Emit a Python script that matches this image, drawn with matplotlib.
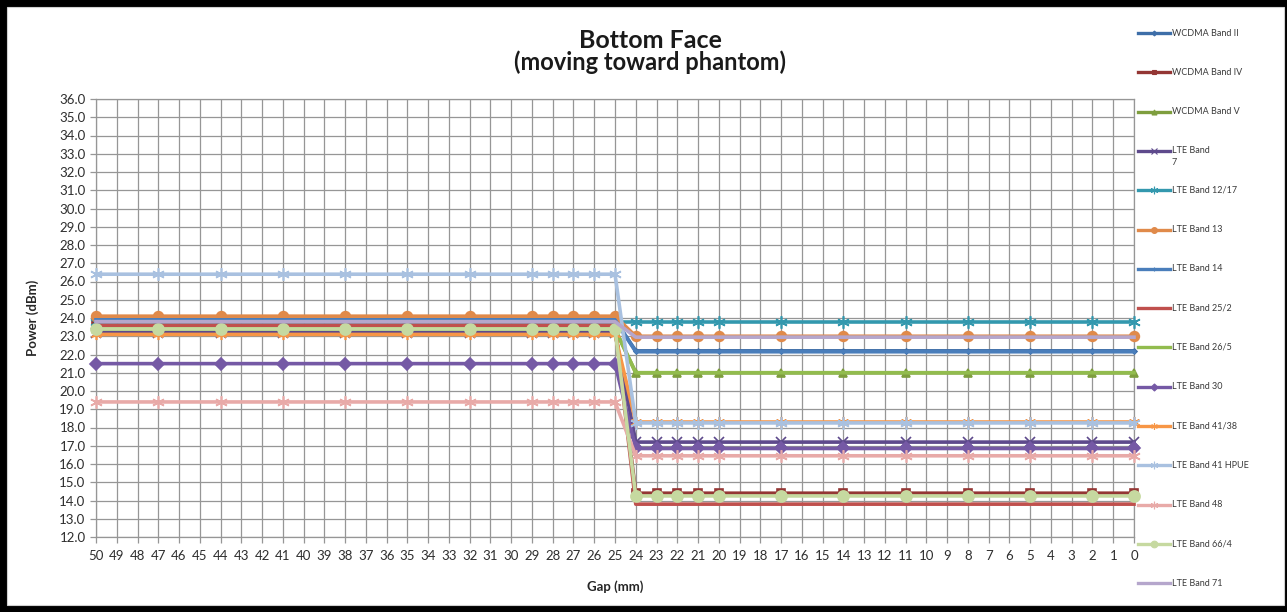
import matplotlib
matplotlib.use("Agg")
import matplotlib.pyplot as plt
from matplotlib.lines import Line2D
from matplotlib.patches import Rectangle

plt.rcParams['font.family'] = ['Lato', 'DejaVu Sans']

# gap positions (mm) where power was measured
gap = [50, 47, 44, 41, 38, 35, 32, 29, 28, 27, 26, 25,
       24, 23, 22, 21, 20, 17, 14, 11, 8, 5, 2, 0]

# measured power (dBm) per band, same order as gap
wcdma_2 = [23.9, 23.9, 23.9, 23.9, 23.9, 23.9, 23.9, 23.9, 23.9, 23.9, 23.9, 23.9,
           22.2, 22.2, 22.2, 22.2, 22.2, 22.2, 22.2, 22.2, 22.2, 22.2, 22.2, 22.2]
wcdma_4 = [23.6, 23.6, 23.6, 23.6, 23.6, 23.6, 23.6, 23.6, 23.6, 23.6, 23.6, 23.6,
           14.4, 14.4, 14.4, 14.4, 14.4, 14.4, 14.4, 14.4, 14.4, 14.4, 14.4, 14.4]
wcdma_5 = [23.4, 23.4, 23.4, 23.4, 23.4, 23.4, 23.4, 23.4, 23.4, 23.4, 23.4, 23.4,
           21.0, 21.0, 21.0, 21.0, 21.0, 21.0, 21.0, 21.0, 21.0, 21.0, 21.0, 21.0]
lte_7 = [23.2, 23.2, 23.2, 23.2, 23.2, 23.2, 23.2, 23.2, 23.2, 23.2, 23.2, 23.2,
         17.2, 17.2, 17.2, 17.2, 17.2, 17.2, 17.2, 17.2, 17.2, 17.2, 17.2, 17.2]
lte_12_17 = [23.8, 23.8, 23.8, 23.8, 23.8, 23.8, 23.8, 23.8, 23.8, 23.8, 23.8, 23.8,
             23.8, 23.8, 23.8, 23.8, 23.8, 23.8, 23.8, 23.8, 23.8, 23.8, 23.8, 23.8]
lte_13 = [24.1, 24.1, 24.1, 24.1, 24.1, 24.1, 24.1, 24.1, 24.1, 24.1, 24.1, 24.1,
          23.0, 23.0, 23.0, 23.0, 23.0, 23.0, 23.0, 23.0, 23.0, 23.0, 23.0, 23.0]
lte_14 = [23.9, 23.9, 23.9, 23.9, 23.9, 23.9, 23.9, 23.9, 23.9, 23.9, 23.9, 23.9,
          22.15, 22.15, 22.15, 22.15, 22.15, 22.15, 22.15, 22.15, 22.15, 22.15, 22.15, 22.15]
lte_25_2 = [23.6, 23.6, 23.6, 23.6, 23.6, 23.6, 23.6, 23.6, 23.6, 23.6, 23.6, 23.6,
            13.8, 13.8, 13.8, 13.8, 13.8, 13.8, 13.8, 13.8, 13.8, 13.8, 13.8, 13.8]
lte_26_5 = [23.4, 23.4, 23.4, 23.4, 23.4, 23.4, 23.4, 23.4, 23.4, 23.4, 23.4, 23.4,
            21.0, 21.0, 21.0, 21.0, 21.0, 21.0, 21.0, 21.0, 21.0, 21.0, 21.0, 21.0]
lte_30 = [21.5, 21.5, 21.5, 21.5, 21.5, 21.5, 21.5, 21.5, 21.5, 21.5, 21.5, 21.5,
          16.85, 16.85, 16.85, 16.85, 16.85, 16.85, 16.85, 16.85, 16.85, 16.85, 16.85, 16.85]
lte_41_38 = [23.1, 23.1, 23.1, 23.1, 23.1, 23.1, 23.1, 23.1, 23.1, 23.1, 23.1, 23.1,
             18.3, 18.3, 18.3, 18.3, 18.3, 18.3, 18.3, 18.3, 18.3, 18.3, 18.3, 18.3]
lte_41_hpue = [26.4, 26.4, 26.4, 26.4, 26.4, 26.4, 26.4, 26.4, 26.4, 26.4, 26.4, 26.4,
               18.25, 18.25, 18.25, 18.25, 18.25, 18.25, 18.25, 18.25, 18.25, 18.25, 18.25, 18.25]
lte_48 = [19.4, 19.4, 19.4, 19.4, 19.4, 19.4, 19.4, 19.4, 19.4, 19.4, 19.4, 19.4,
          16.45, 16.45, 16.45, 16.45, 16.45, 16.45, 16.45, 16.45, 16.45, 16.45, 16.45, 16.45]
lte_66_4 = [23.4, 23.4, 23.4, 23.4, 23.4, 23.4, 23.4, 23.4, 23.4, 23.4, 23.4, 23.4,
            14.25, 14.25, 14.25, 14.25, 14.25, 14.25, 14.25, 14.25, 14.25, 14.25, 14.25, 14.25]
lte_71 = [23.8, 23.8, 23.8, 23.8, 23.8, 23.8, 23.8, 23.8, 23.8, 23.8, 23.8, 23.8,
          22.95, 22.95, 22.95, 22.95, 22.95, 22.95, 22.95, 22.95, 22.95, 22.95, 22.95, 22.95]

bands = ['WCDMA Band II', 'WCDMA Band IV', 'WCDMA Band V', 'LTE Band\n7',
         'LTE Band 12/17', 'LTE Band 13', 'LTE Band 14', 'LTE Band 25/2',
         'LTE Band 26/5', 'LTE Band 30', 'LTE Band 41/38', 'LTE Band 41 HPUE',
         'LTE Band 48', 'LTE Band 66/4', 'LTE Band 71']
series = [wcdma_2, wcdma_4, wcdma_5, lte_7, lte_12_17, lte_13, lte_14, lte_25_2,
          lte_26_5, lte_30, lte_41_38, lte_41_hpue, lte_48, lte_66_4, lte_71]

star = (6, 2, 0)
colors = ['#3E6EA8', '#943634', '#7E9E3E', '#5E4A8C', '#3398AE', '#E08A4A',
          '#4A7EBB', '#C0504D', '#92BC4E', '#7559A5', '#F79646', '#A9C1E0',
          '#E8AAA8', '#C6D9A0', '#B5A6CC']
markers = ['D', 's', '^', 'x', star, 'o', '+', None, None, 'D', star, star,
           star, 'o', None]
msizes = [2.5, 6, 6, 7, 9, 7, 3, 0, 0, 6, 8, 9, 9, 8, 0]

fig = plt.figure(figsize=(12.87, 6.12), dpi=100)
fig.patch.set_facecolor('black')
fig.patches.append(Rectangle((7 / 1287, 7 / 612), 1277 / 1287, 598 / 612,
                             transform=fig.transFigure, facecolor='white',
                             edgecolor='#d0d0d0', lw=0.8, zorder=-10))

ax = fig.add_axes([96 / 1287, 1 - 537 / 612, 1038 / 1287, 438 / 612])
ax.set_zorder(2)
ax.set_facecolor('white')

for vals, col, mk, ms in zip(series, colors, markers, msizes):
    ax.plot(gap, vals, color=col, lw=2.6, marker=mk, ms=ms, mew=1.2,
            mfc=col, mec=col, zorder=3, clip_on=False)

ax.set_xlim(50, 0)
ax.set_ylim(12, 36)
ax.set_xticks(range(51))
ax.set_xticklabels([str(v) for v in range(51)])
ax.set_yticks(range(12, 37))
ax.set_yticklabels(['%.1f' % v for v in range(12, 37)])
ax.grid(True, color='#969696', lw=0.9)
ax.set_axisbelow(True)
for s in ax.spines.values():
    s.set_color('#969696')
    s.set_linewidth(0.9)
ax.tick_params(axis='both', colors='#969696', length=4, width=0.9,
               labelcolor='#2e2e2e', labelsize=9.5)
ax.tick_params(axis='x', pad=5)

ax.set_ylabel('Power (dBm)', fontsize=9.5, fontweight='bold', color='#262626')
ax.yaxis.set_label_coords(-0.055, 0.5)
ax.set_xlabel('Gap (mm)', fontsize=9.5, fontweight='bold', color='#262626')
ax.xaxis.set_label_coords(0.5, -0.10)

fig.text(650 / 1287, 1 - 40 / 612, 'Bottom Face', ha='center', va='center',
         fontsize=18, fontweight='bold', color='#1a1a1a')
fig.text(650 / 1287, 1 - 62 / 612, '(moving toward phantom)', ha='center',
         va='center', fontsize=17, fontweight='bold', color='#1a1a1a')

# legend, one entry per row down the right edge
for i, (lab, col, mk, ms) in enumerate(zip(bands, colors, markers, msizes)):
    yc = 1 - (33 + 39.3 * i) / 612
    fig.lines.append(Line2D([1138 / 1287, 1170 / 1287], [yc, yc],
                            transform=fig.transFigure, color=col, lw=2.4))
    if mk is not None:
        fig.lines.append(Line2D([1154 / 1287], [yc], transform=fig.transFigure,
                                color=col, marker=mk, ms=max(ms * 0.6, 2.5), mew=0.8))
    fig.text(1172 / 1287, yc, lab.split('\n')[0], ha='left', va='center',
             fontsize=6.5, color='#3a3a3a')
    if '\n' in lab:
        fig.text(1172 / 1287, yc - 12 / 612, lab.split('\n')[1], ha='left',
                 va='center', fontsize=6.5, color='#3a3a3a')

fig.savefig('out.png', dpi=100, facecolor=fig.get_facecolor())
